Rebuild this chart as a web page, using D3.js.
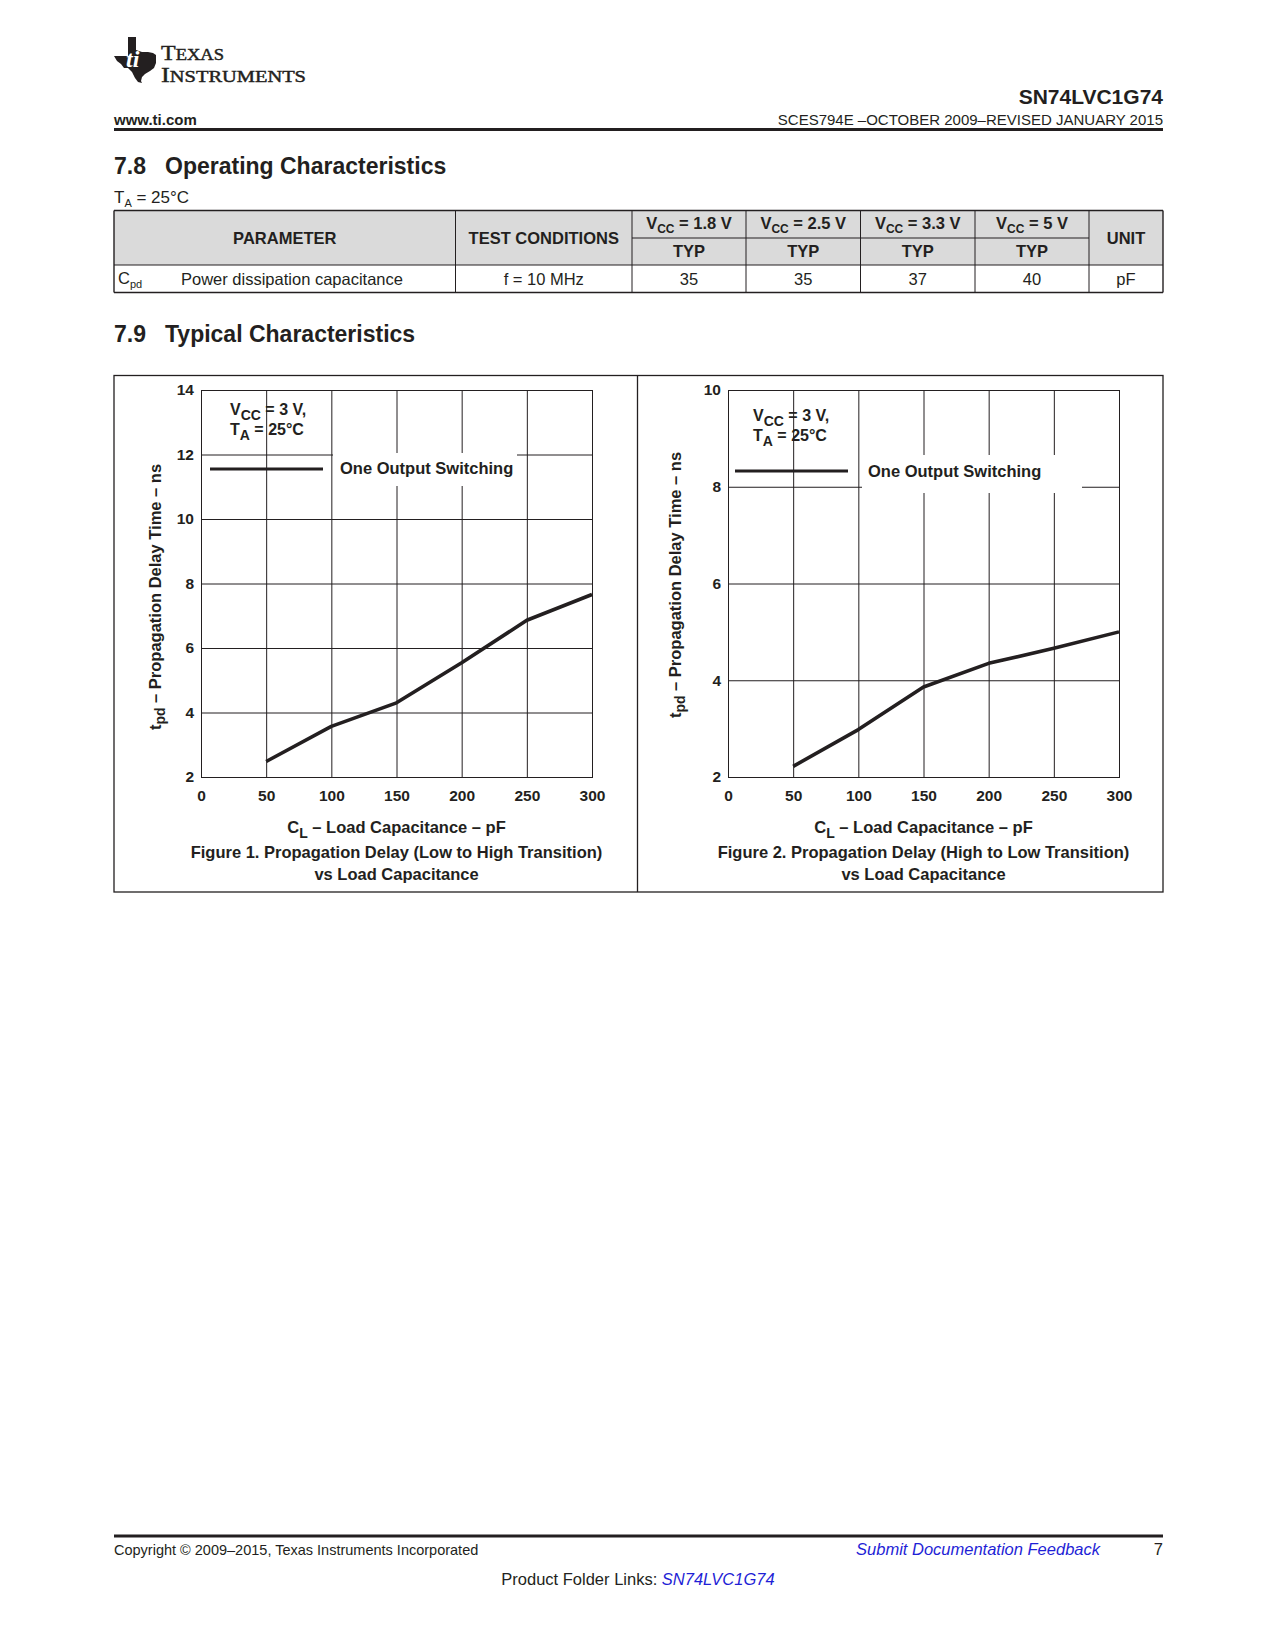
<!DOCTYPE html>
<html>
<head>
<meta charset="utf-8">
<script src="https://cdn.jsdelivr.net/npm/d3@7"></script>
<style>
  body { margin: 0; background: #fff; }
  svg { display: block; font-family: "Liberation Sans", Arial, Helvetica, sans-serif; }
</style>
</head>
<body>
<svg id="page" width="1275" height="1650"></svg>
<script>
// ---- data ----
const loadCap = [50, 100, 150, 200, 250, 300];
const tpdLowHigh = [2.48, 3.57, 4.3, 5.54, 6.86, 7.66];
const tpdHighLow = [2.22, 2.98, 3.86, 4.35, 4.66, 5.0];
const xTicks = [0, 50, 100, 150, 200, 250, 300];
const yTicksFig1 = [2, 4, 6, 8, 10, 12, 14];
const yTicksFig2 = [2, 4, 6, 8, 10];
const vccLevels = ["1.8", "2.5", "3.3", "5"];
const cpdTyp = ["35", "35", "37", "40"];

const ink = "#231f20";
const blue = "#1f1fd6";
const svg = d3.select("#page");

// ---- page header ----
const logo = svg.append("g").attr("transform", "translate(114,37)");
logo.append("path")
  .attr("d", "M14,0 L22,0 L22,13 L28,15 L34,15 L39,16 L42,18 L42,26 L40,31 L36,34 L31,37 L28,40 L27,44 L28,46 L24,45 L21,41 L18,35 L14,31 L10,31 L7,27 L3,24 L0,19 L14,19 Z")
  .attr("fill", ink);
logo.append("text").attr("x", 12).attr("y", 30)
  .attr("fill", "#fff").style("font-family", "'Liberation Serif', serif")
  .style("font-weight", "bold").style("font-style", "italic").style("font-size", "24px")
  .text("ti");

const logoText = svg.append("g").style("font-family", "'Liberation Serif', 'DejaVu Serif', serif")
  .attr("fill", ink).attr("stroke", ink).attr("stroke-width", 0.45);
logoText.append("text").attr("x", 161).attr("y", 60).attr("textLength", 63)
  .attr("lengthAdjust", "spacingAndGlyphs")
  .call(t => {
    t.append("tspan").style("font-size", "22px").text("T");
    t.append("tspan").style("font-size", "17px").text("EXAS");
  });
logoText.append("text").attr("x", 161).attr("y", 82).attr("textLength", 145)
  .attr("lengthAdjust", "spacingAndGlyphs")
  .call(t => {
    t.append("tspan").style("font-size", "22px").text("I");
    t.append("tspan").style("font-size", "17px").text("NSTRUMENTS");
  });

svg.append("text").attr("x", 1163).attr("y", 104).attr("text-anchor", "end")
  .style("font-weight", "bold").style("font-size", "21px").attr("fill", ink).text("SN74LVC1G74");
svg.append("text").attr("x", 114).attr("y", 125)
  .style("font-weight", "bold").style("font-size", "15px").attr("fill", ink).text("www.ti.com");
svg.append("text").attr("x", 1163).attr("y", 125).attr("text-anchor", "end")
  .style("font-size", "15px").attr("fill", ink).text("SCES794E \u2013OCTOBER 2009\u2013REVISED JANUARY 2015");
svg.append("rect").attr("x", 114).attr("y", 128).attr("width", 1049).attr("height", 3).attr("fill", ink);

// ---- section 7.8 ----
function heading(num, title, yBase) {
  svg.append("text").attr("x", 114).attr("y", yBase).style("font-weight", "bold")
    .style("font-size", "23px").attr("fill", ink).text(num);
  svg.append("text").attr("x", 165).attr("y", yBase).style("font-weight", "bold")
    .style("font-size", "23px").attr("fill", ink).text(title);
}
heading("7.8", "Operating Characteristics", 174);

svg.append("text").attr("x", 114).attr("y", 203).style("font-size", "17px").attr("fill", ink)
  .call(t => {
    t.append("tspan").text("T");
    t.append("tspan").attr("dy", 4).style("font-size", "11px").text("A");
    t.append("tspan").attr("dy", -4).text(" = 25\u00b0C");
  });

// table
const colX = [114, 455.5, 632, 746, 860.5, 975, 1089, 1163];
const tTop = 210.5, tSplit = 238, tHead = 265, tBot = 292.5;
const tbl = svg.append("g");
tbl.append("rect").attr("x", colX[0]).attr("y", tTop).attr("width", colX[7] - colX[0])
  .attr("height", tHead - tTop).attr("fill", "#dadada");
tbl.selectAll("line.v").data(colX).join("line").attr("class", "v")
  .attr("x1", d => d).attr("x2", d => d).attr("y1", tTop).attr("y2", tBot)
  .attr("stroke", ink).attr("stroke-width", (d, i) => (i === 0 || i === 7) ? 1.4 : 1);
tbl.selectAll("line.h").data([tTop, tHead, tBot]).join("line").attr("class", "h")
  .attr("x1", colX[0]).attr("x2", colX[7]).attr("y1", d => d).attr("y2", d => d)
  .attr("stroke", ink).attr("stroke-width", (d, i) => i === 1 ? 1 : 1.6);
tbl.append("line").attr("x1", colX[2]).attr("x2", colX[6]).attr("y1", tSplit).attr("y2", tSplit)
  .attr("stroke", ink);

const mid = (a, b) => (a + b) / 2;
const cellText = (x, y, txt, bold) => tbl.append("text").attr("x", x).attr("y", y)
  .attr("text-anchor", "middle").style("font-size", "16.5px")
  .style("font-weight", bold ? "bold" : "normal").attr("fill", ink).text(txt);

cellText(mid(colX[0], colX[1]), 244, "PARAMETER", true);
cellText(mid(colX[1], colX[2]), 244, "TEST CONDITIONS", true);
cellText(mid(colX[6], colX[7]), 244, "UNIT", true);
vccLevels.forEach((v, i) => {
  tbl.append("text").attr("x", mid(colX[2 + i], colX[3 + i])).attr("y", 229)
    .attr("text-anchor", "middle").style("font-size", "16.5px").style("font-weight", "bold")
    .attr("fill", ink)
    .call(t => {
      t.append("tspan").text("V");
      t.append("tspan").attr("dy", 4).style("font-size", "12px").text("CC");
      t.append("tspan").attr("dy", -4).text(" = " + v + " V");
    });
  cellText(mid(colX[2 + i], colX[3 + i]), 257, "TYP", true);
  cellText(mid(colX[2 + i], colX[3 + i]), 285, cpdTyp[i], false);
});
tbl.append("text").attr("x", 118).attr("y", 284).style("font-size", "16.5px").attr("fill", ink)
  .call(t => {
    t.append("tspan").text("C");
    t.append("tspan").attr("dy", 4).style("font-size", "11px").text("pd");
  });
tbl.append("text").attr("x", 181).attr("y", 285).style("font-size", "16.5px").attr("fill", ink)
  .text("Power dissipation capacitance");
cellText(mid(colX[1], colX[2]), 285, "f = 10 MHz", false);
cellText(mid(colX[6], colX[7]), 285, "pF", false);

// ---- section 7.9 ----
heading("7.9", "Typical Characteristics", 342);

// figure frame
svg.append("rect").attr("x", 114).attr("y", 375.5).attr("width", 1049).attr("height", 516.5)
  .attr("fill", "none").attr("stroke", ink).attr("stroke-width", 1.3);
svg.append("line").attr("x1", 637.5).attr("x2", 637.5).attr("y1", 375.5).attr("y2", 892)
  .attr("stroke", ink).attr("stroke-width", 1.3);

function drawPlot(p) {
  const g = svg.append("g");
  const x = d3.scaleLinear().domain([0, 300]).range([p.x0, p.x1]);
  const y = d3.scaleLinear().domain([2, p.yMax]).range([p.y1, p.y0]);

  // grid
  g.append("g").attr("transform", `translate(0,${p.y1})`)
    .call(d3.axisBottom(x).tickValues(xTicks).tickSize(-(p.y1 - p.y0)).tickFormat(""))
    .call(a => a.select(".domain").remove())
    .selectAll("line").attr("stroke", ink);
  g.append("g").attr("transform", `translate(${p.x0},0)`)
    .call(d3.axisLeft(y).tickValues(p.yTicks).tickSize(-(p.x1 - p.x0)).tickFormat(""))
    .call(a => a.select(".domain").remove())
    .selectAll("line").attr("stroke", ink);
  g.append("rect").attr("x", p.x0 + 0.5).attr("y", p.y0 + 0.5)
    .attr("width", p.x1 - p.x0).attr("height", p.y1 - p.y0)
    .attr("fill", "none").attr("stroke", ink);

  // tick labels
  const styleTicks = a => a.style("font-family", "'Liberation Sans', Arial, sans-serif")
    .style("font-size", "15.5px").style("font-weight", "bold")
    .call(s => s.select(".domain").remove())
    .call(s => s.selectAll("text").attr("fill", ink));
  g.append("g").attr("transform", `translate(0,${p.y1})`)
    .call(d3.axisBottom(x).tickValues(xTicks).tickSize(0).tickPadding(13))
    .call(styleTicks);
  g.append("g").attr("transform", `translate(${p.x0},0)`)
    .call(d3.axisLeft(y).tickValues(p.yTicks).tickSize(0).tickPadding(7))
    .call(styleTicks);

  // conditions note
  const note = g.append("g").style("font-size", "16px").style("font-weight", "bold").attr("fill", ink);
  note.append("text").attr("x", p.noteX).attr("y", p.noteY)
    .call(t => {
      t.append("tspan").text("V");
      t.append("tspan").attr("dy", 5).style("font-size", "14px").text("CC");
      t.append("tspan").attr("dy", -5).text(" = 3 V,");
    });
  note.append("text").attr("x", p.noteX).attr("y", p.noteY + 20)
    .call(t => {
      t.append("tspan").text("T");
      t.append("tspan").attr("dy", 5).style("font-size", "14px").text("A");
      t.append("tspan").attr("dy", -5).text(" = 25\u00b0C");
    });

  // legend
  g.append("rect").attr("x", p.legBox[0]).attr("y", p.legBox[1])
    .attr("width", p.legBox[2]).attr("height", p.legBox[3]).attr("fill", "#fff");
  g.append("line").attr("x1", p.legLine[0]).attr("x2", p.legLine[1])
    .attr("y1", p.legLine[2]).attr("y2", p.legLine[2])
    .attr("stroke", ink).attr("stroke-width", 3.2);
  g.append("text").attr("x", p.legText[0]).attr("y", p.legText[1])
    .style("font-size", "16.5px").style("font-weight", "bold").attr("fill", ink)
    .text("One Output Switching");

  // curve
  const line = d3.line().x(d => x(d[0])).y(d => y(d[1]));
  g.append("path").datum(d3.zip(loadCap, p.values))
    .attr("d", line).attr("fill", "none").attr("stroke", ink)
    .attr("stroke-width", 3.6).attr("stroke-linejoin", "round");

  // axis titles
  const cx = (p.x0 + p.x1) / 2;
  g.append("text").attr("transform", `translate(${p.yLab[0]},${p.yLab[1]}) rotate(-90)`)
    .attr("text-anchor", "middle").style("font-size", "16.5px").style("font-weight", "bold")
    .attr("fill", ink)
    .call(t => {
      t.append("tspan").text("t");
      t.append("tspan").attr("dy", 4).style("font-size", "14px").text("pd");
      t.append("tspan").attr("dy", -4).text(" \u2013 Propagation Delay Time \u2013 ns");
    });
  g.append("text").attr("x", cx).attr("y", 833).attr("text-anchor", "middle")
    .style("font-size", "16.5px").style("font-weight", "bold").attr("fill", ink)
    .call(t => {
      t.append("tspan").text("C");
      t.append("tspan").attr("dy", 5).style("font-size", "14px").text("L");
      t.append("tspan").attr("dy", -5).text(" \u2013 Load Capacitance \u2013 pF");
    });
  p.caption.forEach((c, i) => {
    g.append("text").attr("x", cx).attr("y", 858 + i * 22).attr("text-anchor", "middle")
      .style("font-size", "16.5px").style("font-weight", "bold").attr("fill", ink).text(c);
  });
}

drawPlot({
  x0: 201, x1: 592, y0: 390, y1: 777, yMax: 14, yTicks: yTicksFig1, values: tpdLowHigh,
  noteX: 230, noteY: 415,
  legBox: [333, 453, 184, 33], legLine: [210, 323, 469], legText: [340, 474],
  yLab: [161, 597],
  caption: ["Figure 1. Propagation Delay (Low to High Transition)", "vs Load Capacitance"]
});
drawPlot({
  x0: 728, x1: 1119, y0: 390, y1: 777, yMax: 10, yTicks: yTicksFig2, values: tpdHighLow,
  noteX: 753, noteY: 421,
  legBox: [862, 455, 220, 38], legLine: [735, 848, 471], legText: [868, 477],
  yLab: [681, 585],
  caption: ["Figure 2. Propagation Delay (High to Low Transition)", "vs Load Capacitance"]
});

// ---- footer ----
svg.append("rect").attr("x", 114).attr("y", 1534.5).attr("width", 1049).attr("height", 3).attr("fill", ink);
svg.append("text").attr("x", 114).attr("y", 1555).style("font-size", "14.5px").attr("fill", ink)
  .text("Copyright \u00a9 2009\u20132015, Texas Instruments Incorporated");
svg.append("text").attr("x", 1100).attr("y", 1555).attr("text-anchor", "end")
  .style("font-size", "16.5px").style("font-style", "italic").attr("fill", blue)
  .text("Submit Documentation Feedback");
svg.append("text").attr("x", 1163).attr("y", 1555).attr("text-anchor", "end")
  .style("font-size", "16.5px").attr("fill", ink).text("7");
svg.append("text").attr("x", 638).attr("y", 1585).attr("text-anchor", "middle")
  .style("font-size", "16.5px").attr("fill", ink)
  .call(t => {
    t.append("tspan").text("Product Folder Links: ");
    t.append("tspan").style("font-style", "italic").attr("fill", blue).text("SN74LVC1G74");
  });
</script>
</body>
</html>
